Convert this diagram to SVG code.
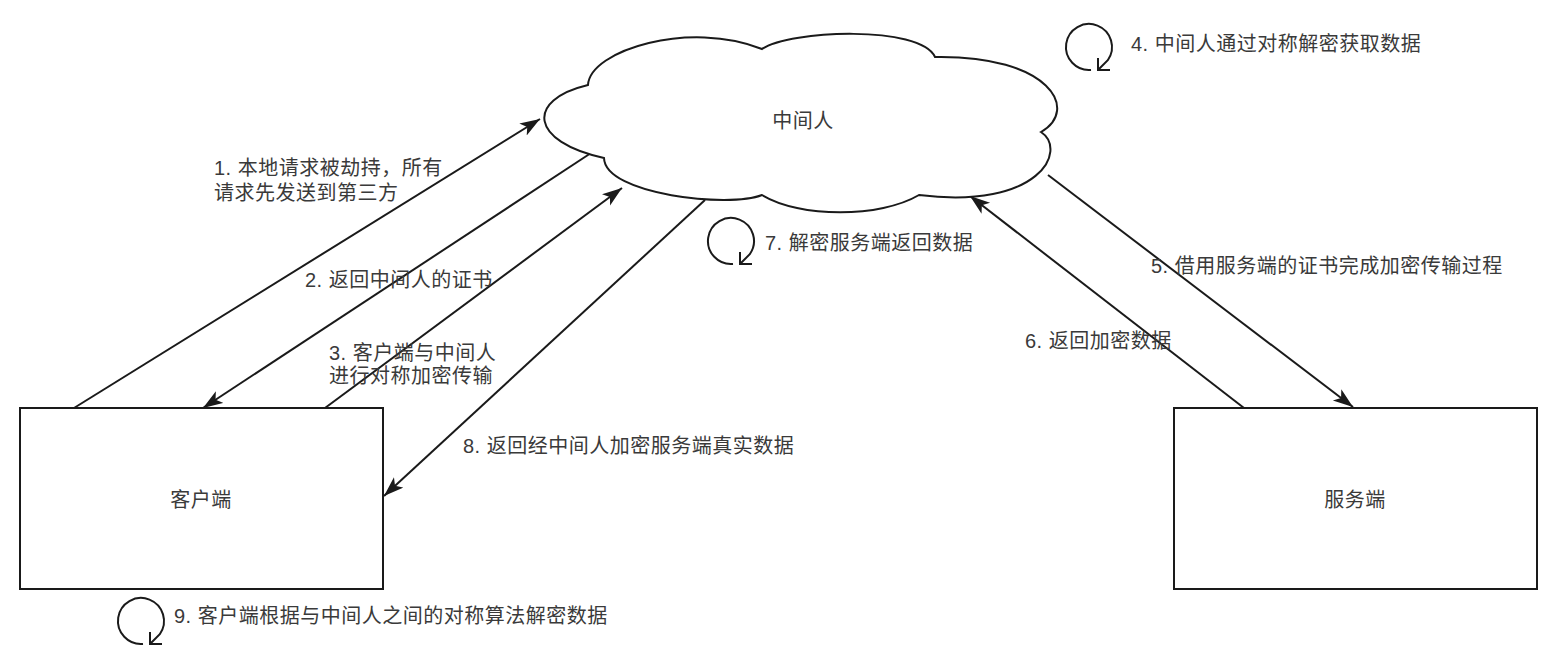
<svg xmlns="http://www.w3.org/2000/svg" width="1561" height="655" viewBox="0 0 1561 655">
<style>
.shape{fill:#fff;stroke:#1a1a1a;stroke-width:2}
.conn{fill:none;stroke:#1a1a1a;stroke-width:2}
.icon{fill:none;stroke:#1a1a1a;stroke-width:2;stroke-linecap:butt}
text{font-family:"Liberation Sans","Noto Sans CJK SC",sans-serif;font-size:20px;fill:#3a3a3a;letter-spacing:0.5px}
.c{text-anchor:middle}
</style>
<defs>
<marker id="arr" markerUnits="userSpaceOnUse" markerWidth="24" markerHeight="16" refX="20" refY="7" orient="auto">
<path d="M0,0 L20,7 L0,14 L5,7 Z" fill="#1a1a1a"/>
</marker>
<g id="refresh">
<path class="icon" d="M2,22.9 A23,23 0 1 1 18.8,13.2 L9,23"/>
<path class="icon" d="M9,11 L9,23 L21,23"/>
</g>
</defs>
<rect width="1561" height="655" fill="#fff"/>

<g id="connectors">
<line class="conn" x1="74" y1="408" x2="540" y2="119" marker-end="url(#arr)"/>
<line class="conn" x1="591" y1="153" x2="203" y2="408" marker-end="url(#arr)"/>
<line class="conn" x1="325" y1="408" x2="622" y2="188" marker-end="url(#arr)"/>
<line class="conn" x1="705" y1="200" x2="384" y2="496" marker-end="url(#arr)"/>
<line class="conn" x1="1244" y1="408" x2="970" y2="196" marker-end="url(#arr)"/>
<line class="conn" x1="1048" y1="175" x2="1353" y2="407" marker-end="url(#arr)"/>
</g>

<g id="node-mitm">
<path class="shape" d="M588,85 C590,50 690,20 762,49 C790,30 920,25 935,57 C1050,55 1080,110 1041,132 C1068,150 1040,210 919,195 C880,218 800,218 762,195 C730,208 605,195 604,158 C530,142 525,100 588,85 Z"/>
<text class="c" x="803" y="128">中间人</text>
</g>

<g id="node-client">
<rect class="shape" x="20" y="408" width="363" height="181"/>
<text class="c" x="201" y="507">客户端</text>
</g>

<g id="node-server">
<rect class="shape" x="1174" y="408" width="363" height="181"/>
<text class="c" x="1355" y="507">服务端</text>
</g>

<g id="labels">
<text x="214" y="175">1. 本地请求被劫持，所有</text>
<text x="214" y="200">请求先发送到第三方</text>
<text x="305" y="287">2. 返回中间人的证书</text>
<text x="329" y="360">3. 客户端与中间人</text>
<text x="329" y="383">进行对称加密传输</text>
<text x="463" y="453">8. 返回经中间人加密服务端真实数据</text>
<text x="1131" y="51">4. 中间人通过对称解密获取数据</text>
<text x="765" y="250">7. 解密服务端返回数据</text>
<text x="1151" y="273">5. 借用服务端的证书完成加密传输过程</text>
<text x="1025" y="348">6. 返回加密数据</text>
<text x="174" y="623">9. 客户端根据与中间人之间的对称算法解密数据</text>
</g>

<g id="icon-4"><use href="#refresh" x="1089" y="47"/></g>
<g id="icon-7"><use href="#refresh" x="731" y="241"/></g>
<g id="icon-9"><use href="#refresh" x="141" y="621"/></g>
</svg>
